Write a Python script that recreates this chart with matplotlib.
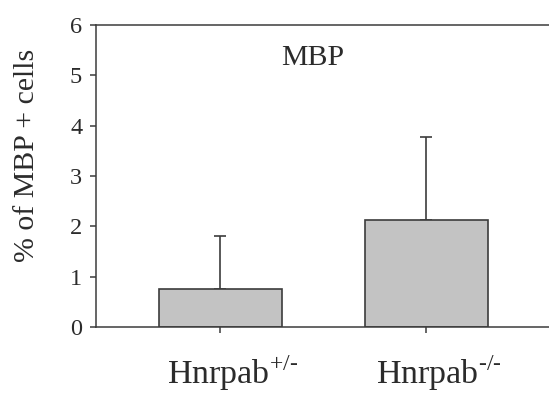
import matplotlib.pyplot as plt
from matplotlib.transforms import ScaledTranslation

plt.rcParams["font.family"] = ["Liberation Serif", "DejaVu Serif"]
plt.rcParams["mathtext.fontset"] = "custom"
plt.rcParams["mathtext.rm"] = "Liberation Serif"

# data
groups = [r"Hnrpab$^{\text{+/-}}$", r"Hnrpab$^{\text{-/-}}$"]
means = [0.75, 2.13]
err_upper = [1.05, 1.65]
yticks = [0, 1, 2, 3, 4, 5, 6]

INK = "#2b2b2b"
LINE = "#3c3c3c"

fig = plt.figure(figsize=(5.49, 3.94), dpi=100)
ax = fig.add_axes([0.1749, 0.170, 0.8251, 0.7665])

x = range(len(groups))
ax.bar(x, means, width=0.60, color="#c3c3c3", edgecolor=LINE,
       linewidth=1.2, zorder=2)
ax.errorbar(x, means, yerr=[[0] * len(means), err_upper], fmt="none",
            ecolor=LINE, elinewidth=1.2, capsize=4, capthick=1.2, zorder=1)

ax.set_xlim(-0.604, 1.595)
ax.set_ylim(0, 6)
ax.set_yticks(yticks)
ax.set_xticks(list(x))
ax.set_xticklabels(groups)

for side in ["top", "bottom", "left"]:
    ax.spines[side].set_color(LINE)
    ax.spines[side].set_linewidth(1.1)
ax.spines["right"].set_visible(False)

ax.tick_params(axis="y", length=4, width=1.1, color=LINE, labelsize=17.5,
               labelcolor=INK, pad=6)
ax.tick_params(axis="x", length=4, width=1.1, color=LINE, labelsize=24.5,
               labelcolor=INK, pad=15)

# group names sit a little right of the tick
shift = ScaledTranslation(12 / 100, 0, fig.dpi_scale_trans)
for lbl in ax.get_xticklabels():
    lbl.set_transform(lbl.get_transform() + shift)

ax.set_ylabel("% of MBP + cells", fontsize=21.5, color=INK, va="center")
ax.yaxis.set_label_coords(-0.152, 0.570)

ax.text(0.479, 0.868, "MBP", transform=ax.transAxes, ha="center",
        va="baseline", fontsize=21.5, color=INK)

fig.savefig("out.png", dpi=100)
